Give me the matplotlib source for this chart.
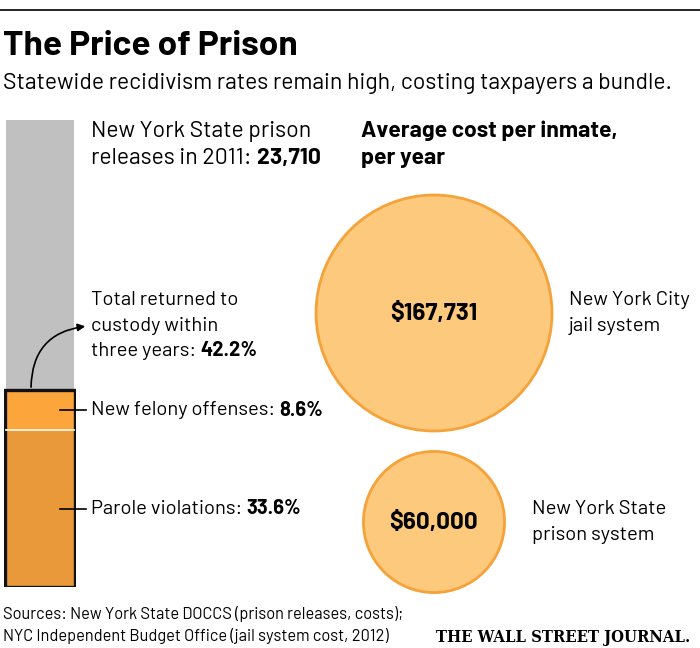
import matplotlib
matplotlib.use("Agg")
import matplotlib.pyplot as plt
from matplotlib.patches import Circle, FancyArrowPatch
import numpy as np

# data
releases_2011 = 23710
returned_total = 42.2
segments = ["Parole violations", "New felony offenses"]
segment_pct = [33.6, 8.6]
cost_labels = [["New York City", "jail system"], ["New York State", "prison system"]]
cost_values = [167731, 60000]

W, H = 700, 648
fig = plt.figure(figsize=(W / 100, H / 100), dpi=100)

body = ["Barlow", "Liberation Sans", "DejaVu Sans"]

def px_axes(x0, y0, x1, y1):
    return fig.add_axes([x0 / W, 1 - y1 / H, (x1 - x0) / W, (y1 - y0) / H])

# stacked bar (drawn first so the overlay sits on top)
bx = px_axes(4, 120, 76, 587)
bx.set_xlim(-0.5, 0.5)
bx.set_ylim(0, 100)
bx.axis("off")
bx.bar(0, 100, width=0.945, color="#c0c0c0", linewidth=0)
colors = ["#e9983a", "#fba53a"]
bottom = 0
for pct, c in zip(segment_pct, colors):
    bx.bar(0, pct, bottom=bottom, width=0.96, color=c, linewidth=0)
    bottom += pct
bx.plot([-0.47, 0.47], [segment_pct[0]] * 2, color="#fff4e0", lw=1.3)
bx.bar(0, returned_total, width=0.96, fill=False, edgecolor="#111111", linewidth=2.4)

# overlay axes in pixel coords
ax = fig.add_axes([0, 0, 1, 1])
ax.set_xlim(0, W)
ax.set_ylim(H, 0)
ax.axis("off")

# top rule
ax.plot([0, W], [10, 10], color="black", lw=1.2)

ax.text(3, 46, "The Price of Prison", fontsize=25.3, fontweight="bold",
        family=body, va="center", ha="left")
ax.text(3, 83, "Statewide recidivism rates remain high, costing taxpayers a bundle.",
        fontsize=16.5, family=body, va="center", ha="left")

def bar_to_px(v):
    return 587 - v / 100 * (587 - 120)

mid_parole = bar_to_px(segment_pct[0] / 2)
mid_felony = bar_to_px(segment_pct[0] + segment_pct[1] / 2)
for y in (mid_felony, mid_parole):
    ax.plot([60, 86], [y, y], color="black", lw=1.2)

fs = 16.5   # headers
fs2 = 14.5  # annotations

def label_pair(x, y, plain, bold, size):
    t1 = ax.text(x, y, plain, fontsize=size, family=body, va="center")
    fig.canvas.draw()
    w = t1.get_window_extent().width
    ax.text(x + w + size * 0.3, y, bold, fontsize=size, family=body,
            fontweight="bold", va="center")

ax.text(91, 131, "New York State prison", fontsize=fs, family=body, va="center")
label_pair(91, 158, "releases in 2011:", f"{releases_2011:,}", fs)

ax.text(91, 300, "Total returned to", fontsize=fs2, family=body, va="center")
ax.text(91, 326, "custody within", fontsize=fs2, family=body, va="center")
label_pair(91, 351, "three years:", f"{returned_total}%", fs2)
label_pair(91, mid_felony, f"{segments[1]}:", f"{segment_pct[1]}%", fs2)
label_pair(91, mid_parole, f"{segments[0]}:", f"{segment_pct[0]}%", fs2)

# curved arrow from top of returned box to label
arr = FancyArrowPatch((31, bar_to_px(returned_total)), (88, 326),
                      connectionstyle="arc3,rad=-0.45", arrowstyle="-|>",
                      mutation_scale=11, color="black", lw=1.2)
ax.add_patch(arr)

# circles, area proportional to cost
ax.text(361, 131, "Average cost per inmate,", fontsize=fs, family=body,
        fontweight="bold", va="center")
ax.text(361, 158, "per year", fontsize=fs, family=body, fontweight="bold", va="center")

r_max = 118
k = r_max / np.sqrt(max(cost_values))
centers = [(434, 313), (434, 522)]
label_x = [569, 532]
for (cx, cy), val, lab, lx in zip(centers, cost_values, cost_labels, label_x):
    r = k * np.sqrt(val)
    ax.add_patch(Circle((cx, cy), r, facecolor="#fdc97c", edgecolor="#f5a23a", lw=2))
    ax.text(cx, cy + 1, f"${val:,}", fontsize=17.4, family=body, fontweight="bold",
            ha="center", va="center")
    ax.text(lx, cy - 13, lab[0], fontsize=fs2, family=body, va="center")
    ax.text(lx, cy + 13, lab[1], fontsize=fs2, family=body, va="center")

# footer
ax.text(3, 614, "Sources: New York State DOCCS (prison releases, costs);",
        fontsize=11.8, family=body, va="center")
ax.text(3, 636, "NYC Independent Budget Office (jail system cost, 2012)",
        fontsize=11.8, family=body, va="center")
ax.text(690, 637, "THE WALL STREET JOURNAL.", fontsize=11.9, family="DejaVu Serif",
        fontstretch="condensed", fontweight="bold", ha="right", va="center")

fig.savefig("out.png", dpi=100)
